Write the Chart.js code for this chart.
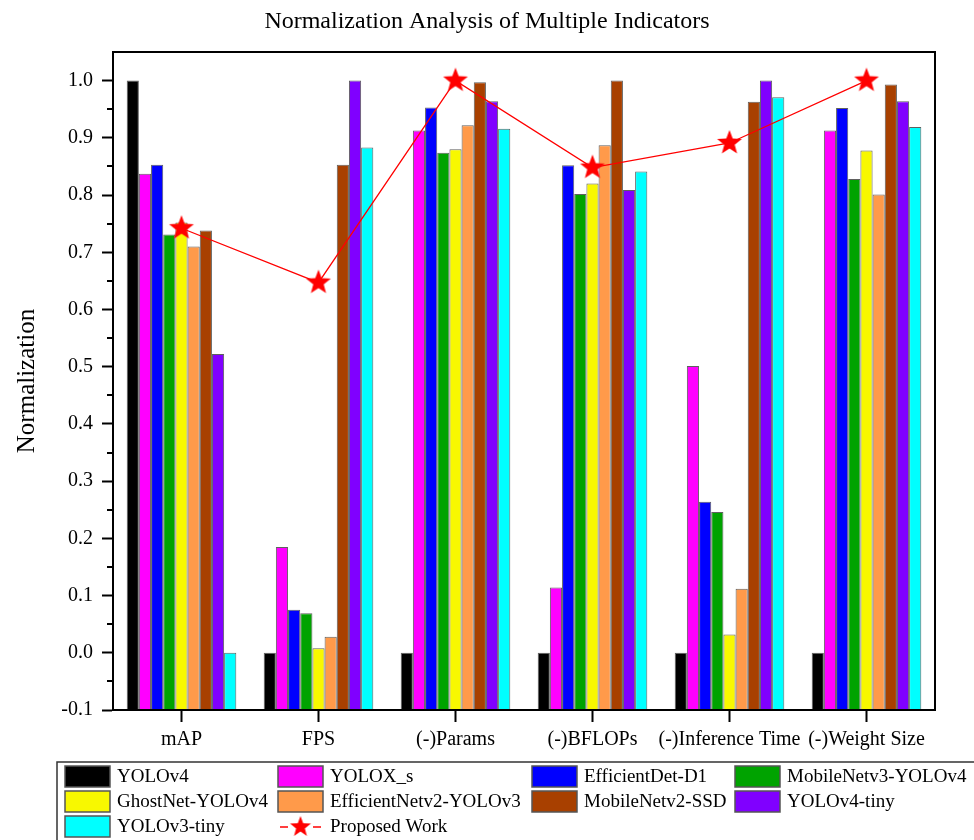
<!DOCTYPE html>
<html>
<head>
<meta charset="utf-8">
<script src="https://cdn.jsdelivr.net/npm/chart.js@4.4.0/dist/chart.umd.min.js"></script>
<style>
  html, body { margin: 0; padding: 0; background: #fff; }
  #wrap { position: relative; width: 974px; height: 840px; }
</style>
</head>
<body>
<div id="wrap"><canvas id="grafico" width="974" height="840"></canvas></div>
<script>
// categorias e valores
var categorias = ['mAP', 'FPS', '(-)Params', '(-)BFLOPs', '(-)Inference Time', '(-)Weight Size'];

var YOLOv4 = [1.0, 0.0, 0.0, 0.0, 0.0, 0.0];
var YOLOX_s = [0.837, 0.185, 0.913, 0.114, 0.501, 0.913];
var EfficientDet = [0.853, 0.075, 0.953, 0.852, 0.264, 0.952];
var MobileNetv3 = [0.731, 0.069, 0.874, 0.802, 0.246, 0.828];
var GhostNet = [0.752, 0.008, 0.880, 0.820, 0.032, 0.878];
var EfficientNetv2 = [0.710, 0.028, 0.922, 0.887, 0.112, 0.801];
var MobileNetv2 = [0.738, 0.853, 0.997, 1.0, 0.963, 0.993];
var YOLOv4tiny = [0.522, 1.0, 0.964, 0.809, 1.0, 0.964];
var YOLOv3tiny = [0.0, 0.883, 0.916, 0.841, 0.971, 0.919];
var propostaTrabalho = [0.742, 0.647, 1.0, 0.848, 0.891, 1.0];

var nomesModelos = ['YOLOv4', 'YOLOX_s', 'EfficientDet-D1', 'MobileNetv3-YOLOv4', 'GhostNet-YOLOv4',
  'EfficientNetv2-YOLOv3', 'MobileNetv2-SSD', 'YOLOv4-tiny', 'YOLOv3-tiny'];
var valoresModelos = [YOLOv4, YOLOX_s, EfficientDet, MobileNetv3, GhostNet, EfficientNetv2, MobileNetv2, YOLOv4tiny, YOLOv3tiny];
var coresModelos = ['#000000', '#ff00ff', '#0000ff', '#00a300', '#f8f800', '#ff9a4a', '#a84000', '#8000ff', '#00ffff'];

var ticksY = [-0.1, 0.0, 0.1, 0.2, 0.3, 0.4, 0.5, 0.6, 0.7, 0.8, 0.9, 1.0];

var titulo = 'Normalization Analysis of Multiple Indicators';
var fonte = "'Liberation Serif', 'Times New Roman', serif";

// estrela vermelha preenchida para os pontos
function criarEstrela(r) {
  var c = document.createElement('canvas');
  c.width = c.height = r * 2 + 2;
  var g = c.getContext('2d');
  g.fillStyle = '#ff0000';
  g.beginPath();
  for (var i = 0; i < 10; i++) {
    var raio = i % 2 === 0 ? r : r * 0.42;
    var ang = -Math.PI / 2 + i * Math.PI / 5;
    var px = r + 1 + raio * Math.cos(ang);
    var py = r + 1 + raio * Math.sin(ang);
    if (i === 0) g.moveTo(px, py); else g.lineTo(px, py);
  }
  g.closePath();
  g.fill();
  return c;
}
var estrela = criarEstrela(13);
var estrelaPequena = criarEstrela(11);

var datasets = [];
for (var i = 0; i < nomesModelos.length; i++) {
  datasets.push({
    type: 'bar',
    label: nomesModelos[i],
    data: valoresModelos[i],
    base: -0.1,
    backgroundColor: coresModelos[i],
    borderColor: '#606060',
    borderWidth: 1,
    barPercentage: 1.0,
    categoryPercentage: 0.80,
    order: 2
  });
}
datasets.push({
  type: 'line',
  label: 'Proposed Work',
  data: propostaTrabalho,
  borderColor: '#ff0000',
  borderWidth: 1.3,
  pointStyle: estrela,
  pointRadius: 12,
  tension: 0,
  fill: false,
  order: 1
});

// titulo, moldura, ticks menores e legenda
var extras = {
  id: 'extras',
  afterDraw: function (chart) {
    var ctx = chart.ctx;
    var a = chart.chartArea;
    var y = chart.scales.y;
    ctx.save();

    ctx.fillStyle = '#000';
    ctx.font = '24px ' + fonte;
    ctx.textAlign = 'center';
    ctx.textBaseline = 'middle';
    ctx.fillText(titulo, 487, 22);

    ctx.strokeStyle = '#000';
    ctx.lineWidth = 2;
    ctx.strokeRect(a.left, a.top, a.right - a.left, a.bottom - a.top);
    for (var k = 0; k < ticksY.length - 1; k++) {
      var v = (ticksY[k] + ticksY[k + 1]) / 2;
      var py = Math.round(y.getPixelForValue(v));
      ctx.beginPath();
      ctx.moveTo(a.left - 6, py);
      ctx.lineTo(a.left, py);
      ctx.stroke();
    }

    // legenda
    ctx.strokeStyle = '#333';
    ctx.lineWidth = 1.5;
    ctx.beginPath();
    ctx.moveTo(57, 840);
    ctx.lineTo(57, 762);
    ctx.lineTo(974, 762);
    ctx.stroke();

    var colX = [65, 278, 532, 735];
    var rowY = [776, 801, 826];
    ctx.font = '19px ' + fonte;
    ctx.textBaseline = 'middle';
    ctx.textAlign = 'left';
    var itens = chart.data.datasets;
    for (var j = 0; j < itens.length; j++) {
      var cx = colX[j % 4];
      var cy = rowY[Math.floor(j / 4)];
      var d = itens[j];
      if (d.type === 'bar') {
        ctx.fillStyle = d.backgroundColor;
        ctx.fillRect(cx, cy - 10, 45, 21);
        ctx.strokeStyle = '#555';
        ctx.lineWidth = 1.5;
        ctx.strokeRect(cx, cy - 10, 45, 21);
      } else {
        ctx.strokeStyle = '#ff0000';
        ctx.lineWidth = 1.5;
        ctx.beginPath();
        ctx.moveTo(cx + 2, cy + 1); ctx.lineTo(cx + 10, cy + 1);
        ctx.moveTo(cx + 35, cy + 1); ctx.lineTo(cx + 43, cy + 1);
        ctx.stroke();
        ctx.drawImage(estrelaPequena, cx + 22.5 - estrelaPequena.width / 2, cy + 1 - estrelaPequena.height / 2);
      }
      ctx.fillStyle = '#000';
      ctx.fillText(d.label, cx + 52, cy + 1);
    }
    ctx.restore();
  }
};

const ctx = document.getElementById('grafico');

const myChart = new Chart(ctx, {
  type: 'bar',
  data: {
    labels: categorias,
    datasets: datasets
  },
  plugins: [extras],
  options: {
    responsive: false,
    animation: false,
    layout: {
      padding: { left: 0, right: 39, top: 52, bottom: 85 }
    },
    plugins: {
      legend: { display: false },
      tooltip: { enabled: false },
      title: { display: false }
    },
    scales: {
      x: {
        grid: { display: true, drawOnChartArea: false, offset: false, tickLength: 12, tickWidth: 2, tickColor: '#000' },
        border: { color: '#000', width: 2 },
        ticks: { color: '#000', font: { family: fonte, size: 20 }, padding: 6, maxRotation: 0, autoSkip: false },
        afterFit: function (s) { s.height = 45; }
      },
      y: {
        min: -0.1,
        max: 1.05,
        afterBuildTicks: function (s) {
          s.ticks = ticksY.map(function (v) { return { value: v }; });
        },
        grid: { display: true, drawOnChartArea: false, tickLength: 11, tickWidth: 2, tickColor: '#000' },
        border: { color: '#000', width: 2 },
        ticks: {
          color: '#000',
          font: { family: fonte, size: 20 },
          padding: 9,
          callback: function (v) { return Number(v).toFixed(1); }
        },
        title: {
          display: true,
          text: 'Normalization',
          color: '#000',
          font: { family: fonte, size: 25 },
          padding: { top: 12, bottom: 0 }
        },
        afterFit: function (s) { s.width = 113; }
      }
    }
  }
});
</script>
</body>
</html>
